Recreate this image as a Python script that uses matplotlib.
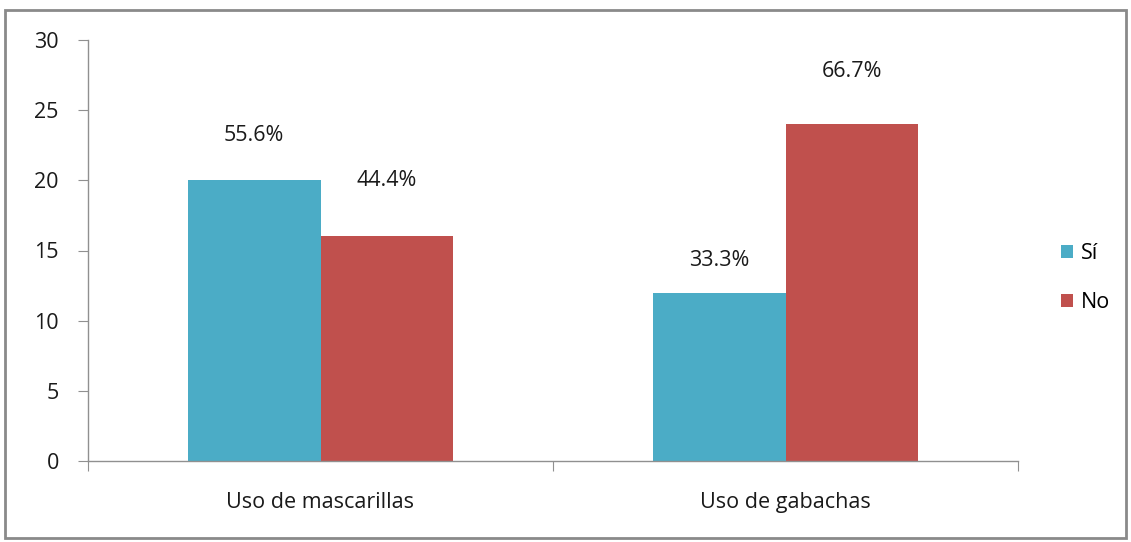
import matplotlib
matplotlib.use("Agg")
import matplotlib.pyplot as plt
from matplotlib.patches import Rectangle
import numpy as np

categories = ["Uso de mascarillas", "Uso de gabachas"]
series_names = ["Sí", "No"]
si_values = [20, 12]
no_values = [16, 24]
si_labels = ["55.6%", "33.3%"]
no_labels = ["44.4%", "66.7%"]

plt.rcParams['font.family'] = ['Open Sans', 'DejaVu Sans']

W, H = 1131, 542
fig = plt.figure(figsize=(W / 100, H / 100), dpi=100)
fig.patches.append(Rectangle((5 / W, 4 / H), 1121 / W, 528 / H, transform=fig.transFigure,
                             fill=False, edgecolor='#8a8a8a', linewidth=2))

ax = fig.add_axes([88 / W, 1 - 461 / H, (1018 - 88) / W, (461 - 40) / H])
x = np.arange(len(categories))
bw = 0.286
c_si = '#4BACC6'
c_no = '#C0504D'
b1 = ax.bar(x - bw / 2, si_values, bw, color=c_si, label=series_names[0])
b2 = ax.bar(x + bw / 2, no_values, bw, color=c_no, label=series_names[1])

FS = 15.5
si_off = [45, 32]
no_off = [56, 53]
for rect, lab, off in zip(b1, si_labels, si_off):
    ax.annotate(lab, (rect.get_x() + rect.get_width() / 2, rect.get_height()),
                xytext=(0, off * 0.72), textcoords='offset points',
                ha='center', va='center', fontsize=FS, color='#1a1a1a')
for rect, lab, off in zip(b2, no_labels, no_off):
    ax.annotate(lab, (rect.get_x() + rect.get_width() / 2, rect.get_height()),
                xytext=(0, off * 0.72), textcoords='offset points',
                ha='center', va='center', fontsize=FS, color='#1a1a1a')

ax.set_xlim(-0.5, 1.5)
ax.set_ylim(0, 30)
ax.set_yticks([0, 5, 10, 15, 20, 25, 30])
ax.set_xticks([-0.5, 0.5, 1.5])
ax.set_xticklabels([])
ax.set_xticks(x, minor=True)
ax.set_xticklabels(categories, minor=True)
ax.tick_params(axis='x', which='minor', length=0, pad=22, labelsize=FS, colors='#1a1a1a')
ax.tick_params(axis='x', which='major', length=7, direction='out', color='#909090')
ax.tick_params(axis='y', length=7, direction='out', color='#909090', pad=14,
               labelsize=FS, labelcolor='#1a1a1a')
for s in ['top', 'right']:
    ax.spines[s].set_visible(False)
for s in ['left', 'bottom']:
    ax.spines[s].set_color('#909090')
    ax.spines[s].set_linewidth(1)

fig.legend(handles=[b1, b2], labels=series_names, loc='center left',
           bbox_to_anchor=(1042 / W, 1 - 278 / H), frameon=False, fontsize=FS,
           handlelength=0.55, handleheight=0.55, handletextpad=0.35, labelspacing=1.3)

fig.savefig("out.png", dpi=100)
